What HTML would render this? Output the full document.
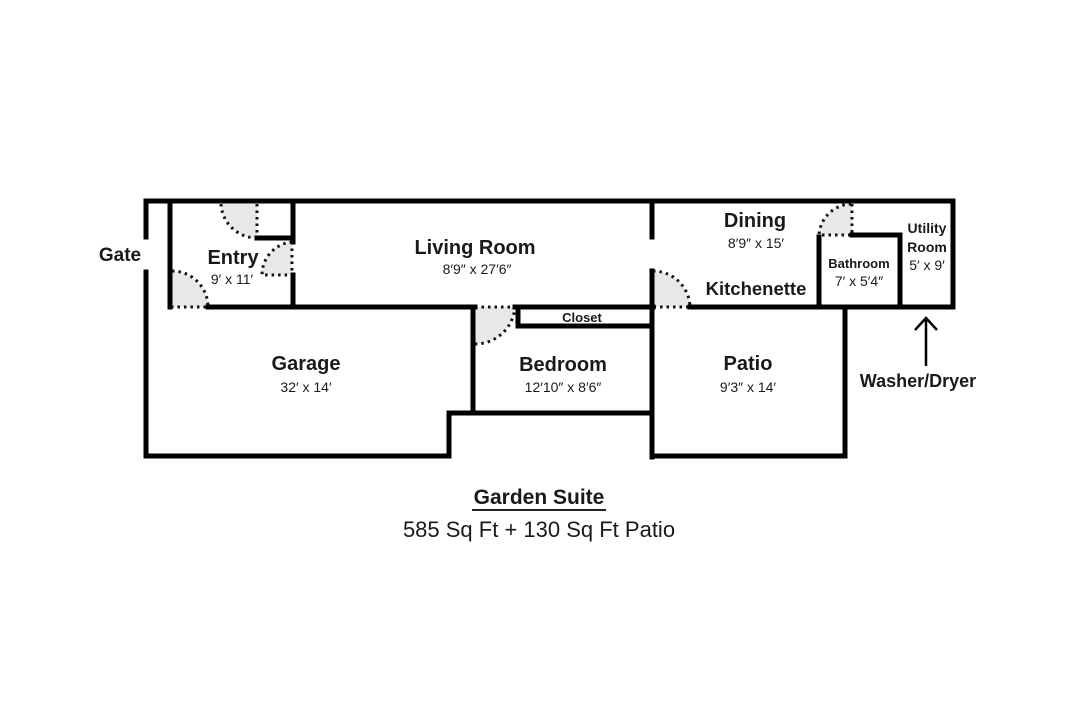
<!DOCTYPE html>
<html><head><meta charset="utf-8"><style>
html,body{margin:0;padding:0;background:#fff;width:1080px;height:702px;overflow:hidden}
svg text{font-family:"Liberation Sans",sans-serif;fill:#1a1a1a;text-anchor:middle}
.b{font-weight:bold}
</style></head><body>
<svg width="1080" height="702" viewBox="0 0 1080 702">
<g fill="#e8e8e8" stroke="#111" stroke-width="3" stroke-dasharray="2.5 4">
<path d="M257,204 L221,204 A36,36 0 0 0 257,238 Z" stroke="none"/>
<path d="M221,204 A36,36 0 0 0 257,238 M257,204 L257,238" fill="none"/>
<path d="M292,275 L292,242 A33,33 0 0 0 262,275 Z" stroke="none"/>
<path d="M292,242 A33,33 0 0 0 262,275 L292,275 M292,242 L292,275" fill="none"/>
<path d="M172,307 L172,271 A36,36 0 0 1 208,307 Z" stroke="none"/>
<path d="M172,271 A36,36 0 0 1 208,307 L172,307" fill="none"/>
<path d="M475,307 L515,307 A40,40 0 0 1 475,344 Z" stroke="none"/>
<path d="M475,307 L515,307 A40,40 0 0 1 475,344" fill="none"/>
<path d="M653,307 L653,271 A37,37 0 0 1 690,307 Z" stroke="none"/>
<path d="M653,271 A37,37 0 0 1 690,307 L653,307" fill="none"/>
<path d="M852,235 L852,204 A33,33 0 0 0 819,235 Z" stroke="none"/>
<path d="M852,204 L852,235 L819,235 A33,33 0 0 1 852,204" fill="none"/>
</g>
<g stroke="#000" stroke-width="5" fill="none" stroke-linecap="square">
<path d="M146,237 L146,201 L953,201 L953,307 L690,307"/>
<path d="M146,272 L146,307"/>
<path d="M170,201 L170,307"/>
<path d="M293,201 L293,242 M293,275 L293,307"/>
<path d="M257,238 L293,238"/>
<path d="M208,307 L475,307"/>
<path d="M515,307 L653,307"/>
<path d="M652,201 L652,237"/>
<path d="M652,271 L652,457"/>
<path d="M819,237 L819,307"/>
<path d="M852,235 L900,235 L900,307"/>
<path d="M146,307 L146,456 L449,456 L449,413 L652,413"/>
<path d="M473,307 L473,413"/>
<path d="M518,307 L518,326 L652,326"/>
<path d="M652,456 L845,456 L845,307"/>
</g>
<g stroke="#000" stroke-width="2.5" fill="none">
<path d="M926,366 L926,319 M915,330 L926,318 L937,330"/>
</g>
<text x="120" y="261" class="b" font-size="19">Gate</text>
<text x="233" y="264" class="b" font-size="20">Entry</text>
<text x="232" y="284" font-size="14">9′ x 11′</text>
<text x="475" y="254" class="b" font-size="20">Living Room</text>
<text x="477" y="274" font-size="14">8′9″ x 27′6″</text>
<text x="755" y="227" class="b" font-size="20">Dining</text>
<text x="756" y="248" font-size="14">8′9″ x 15′</text>
<text x="756" y="295" class="b" font-size="18.5">Kitchenette</text>
<text x="859" y="268" class="b" font-size="13">Bathroom</text>
<text x="859" y="286" font-size="14">7′ x 5′4″</text>
<text x="927" y="233" class="b" font-size="14">Utility</text>
<text x="927" y="252" class="b" font-size="14">Room</text>
<text x="927" y="270" font-size="14">5′ x 9′</text>
<text x="918" y="387" class="b" font-size="18">Washer/Dryer</text>
<text x="306" y="370" class="b" font-size="20">Garage</text>
<text x="306" y="392" font-size="14">32′ x 14′</text>
<text x="563" y="371" class="b" font-size="20">Bedroom</text>
<text x="563" y="392" font-size="14">12′10″ x 8′6″</text>
<text x="582" y="322" class="b" font-size="13">Closet</text>
<text x="748" y="370" class="b" font-size="20">Patio</text>
<text x="748" y="392" font-size="14">9′3″ x 14′</text>
<text x="539" y="504" class="b" font-size="21">Garden Suite</text>
<line x1="472" y1="510" x2="606" y2="510" stroke="#222" stroke-width="2"/>
<text x="539" y="537" font-size="22">585 Sq Ft + 130 Sq Ft Patio</text>
</svg>
</body></html>
